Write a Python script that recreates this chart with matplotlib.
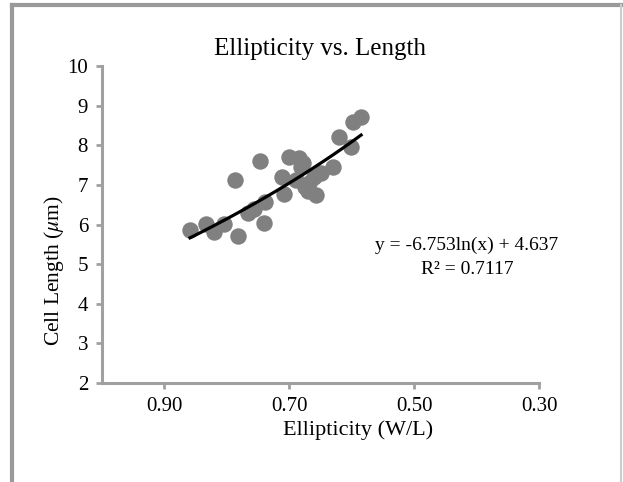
import numpy as np
import matplotlib.pyplot as plt
from matplotlib.lines import Line2D

# datos
elipticidad = [0.859, 0.833, 0.821, 0.805, 0.782, 0.787, 0.766, 0.757, 0.747, 0.741,
               0.739, 0.712, 0.709, 0.700, 0.684, 0.681, 0.690, 0.675, 0.670, 0.658,
               0.661, 0.649, 0.630, 0.620, 0.601, 0.598, 0.585, 0.678, 0.668]
longitud = [5.86, 6.01, 5.81, 6.01, 5.71, 7.12, 6.28, 6.38, 7.59, 6.04,
            6.57, 7.20, 6.78, 7.71, 7.67, 7.46, 7.12, 6.95, 6.85, 6.74,
            7.20, 7.29, 7.46, 8.21, 7.96, 8.59, 8.72, 7.55, 7.05]
coef_a = -6.753
coef_b = 4.637
r2 = 0.7117

plt.rcParams['font.family'] = ['Liberation Serif', 'DejaVu Serif']
plt.rcParams['mathtext.fontset'] = 'stix'

gris = '#a0a0a0'

fig = plt.figure(figsize=(6.23, 4.82), dpi=100)
ax = fig.add_axes([102/623, 1 - 383/482, (539 - 102)/623, (383 - 66)/482])

ax.scatter(elipticidad, longitud, s=140, color='#808080', linewidths=0, zorder=2)

# linea de tendencia logaritmica
xt = np.linspace(min(elipticidad), max(elipticidad), 100)
ax.plot(xt, coef_a * np.log(xt) + coef_b, color='black', lw=2.3, zorder=3)

ax.set_xlim(1.0, 0.3)
ax.set_ylim(2, 10)
ax.set_xticks([0.9, 0.7, 0.5, 0.3])
ax.set_xticklabels(['0.90', '0.70', '0.50', '0.30'])
ax.set_yticks(range(2, 11))

for s in ['top', 'right']:
    ax.spines[s].set_visible(False)
for s in ['left', 'bottom']:
    ax.spines[s].set_color(gris)
    ax.spines[s].set_linewidth(2.2)
ax.tick_params(direction='out', length=4, width=2, color=gris, labelsize=15, pad=6)

ax.set_title('Ellipticity vs. Length', fontsize=18, pad=8)
ax.set_xlabel('Ellipticity (W/L)', fontsize=16, va='top')
ax.xaxis.set_label_coords((358 - 102) / 437, (383 - 420) / 317)
ax.set_ylabel(r'Cell Length ($\mu$m)', fontsize=15.5)
ax.yaxis.set_label_coords((66 - 102) / 437, (383 - 271) / 317)

fig.text(467/623, 1 - 245/482, f'y = {coef_a}ln(x) + {coef_b}', fontsize=14,
         ha='center', va='center')
fig.text(467/623, 1 - 270/482, f'R² = {r2}', fontsize=14, ha='center', va='center')

# marco gris alrededor
fig.add_artist(Line2D([12/623, 12/623], [0, 1 - 5/482], color='#9a9a9a', lw=3,
                      transform=fig.transFigure))
fig.add_artist(Line2D([12/623, 622/623], [1 - 5/482, 1 - 5/482], color='#9a9a9a', lw=3,
                      transform=fig.transFigure))
fig.add_artist(Line2D([621/623, 621/623], [0, 1 - 5/482], color='#cccccc', lw=1.5,
                      transform=fig.transFigure))

fig.savefig('out.png', dpi=100)
